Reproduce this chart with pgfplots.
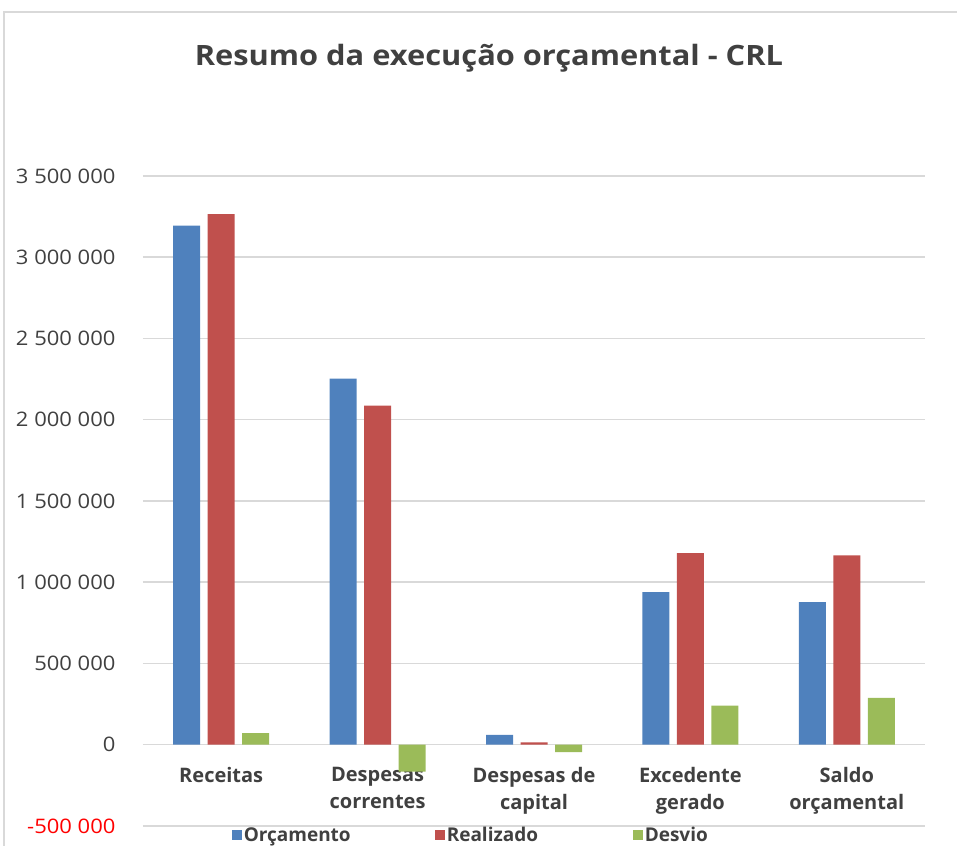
\documentclass[border=0pt]{standalone}
\usepackage{pgfplots}
\pgfplotsset{compat=1.18}
\usepackage{fontspec}
\setmainfont{Open Sans}
\newfontfamily\stretchfont{Open Sans}[FakeStretch=1.1]
\definecolor{cblue}{HTML}{4F81BD}
\definecolor{cred}{HTML}{C0504D}
\definecolor{cgreen}{HTML}{9BBB59}
\definecolor{cgrid}{HTML}{D9D9D9}
\definecolor{ctext}{HTML}{404040}
\begin{document}
\begin{tikzpicture}
\useasboundingbox (-143pt,-19pt) rectangle (814pt,826pt);
\draw[cgrid, line width=1.5pt] (-139pt,-40pt) -- (-139pt,814pt) -- (840pt,814pt);
\node[font=\stretchfont\bfseries\fontsize{28}{32}\selectfont, text=ctext] at (346pt,768pt) {Resumo da execução orçamental - CRL};
\begin{axis}[
  scale only axis,
  width=782pt, height=650pt,
  xmin=-0.5, xmax=4.5,
  ymin=-500000, ymax=3500000,
  scaled y ticks=false,
  ybar=7.5pt,
  bar width=27pt,
  axis line style={draw=none},
  major tick length=0pt,
  ymajorgrids,
  grid style={cgrid, line width=1.5pt},
  xtick={0,1,2,3,4},
  xticklabels={Receitas,{Despesas\\correntes},{Despesas de\\capital},{Excedente\\gerado},{Saldo\\orçamental}},
  xticklabel style={font=\bfseries\fontsize{20}{27}\selectfont, text=ctext, align=center, anchor=north, yshift=62pt},
  ytick={-500000,0,500000,1000000,1500000,2000000,2500000,3000000,3500000},
  yticklabels={{\color{red}-500 000},0,500 000,1 000 000,1 500 000,2 000 000,2 500 000,3 000 000,3 500 000},
  yticklabel style={font=\stretchfont\fontsize{20}{24}\selectfont, text=ctext, anchor=east, xshift=-24pt},
  legend columns=3,
  legend style={at={(0.43,-0.0138)}, anchor=center, draw=none, fill=none,
    font=\bfseries\fontsize{19}{24}\selectfont, text=ctext, inner sep=0pt,
    /tikz/every even column/.append style={column sep=2pt}},
  legend image code/.code={\path[#1] (0pt,-5pt) rectangle (10pt,5pt);},
]
\addplot[fill=cblue, draw=none] coordinates {(0,3195000) (1,2253000) (2,61000) (3,939000) (4,878000)};
\addplot[fill=cred, draw=none] coordinates {(0,3266000) (1,2087000) (2,15000) (3,1179000) (4,1166000)};
\addplot[fill=cgreen, draw=none] coordinates {(0,71000) (1,-166000) (2,-46000) (3,240000) (4,288000)};
\legend{\makebox[187pt][l]{Orçamento},\makebox[182pt][l]{Realizado},\makebox[80pt][l]{Desvio}}
\end{axis}
\end{tikzpicture}
\end{document}
